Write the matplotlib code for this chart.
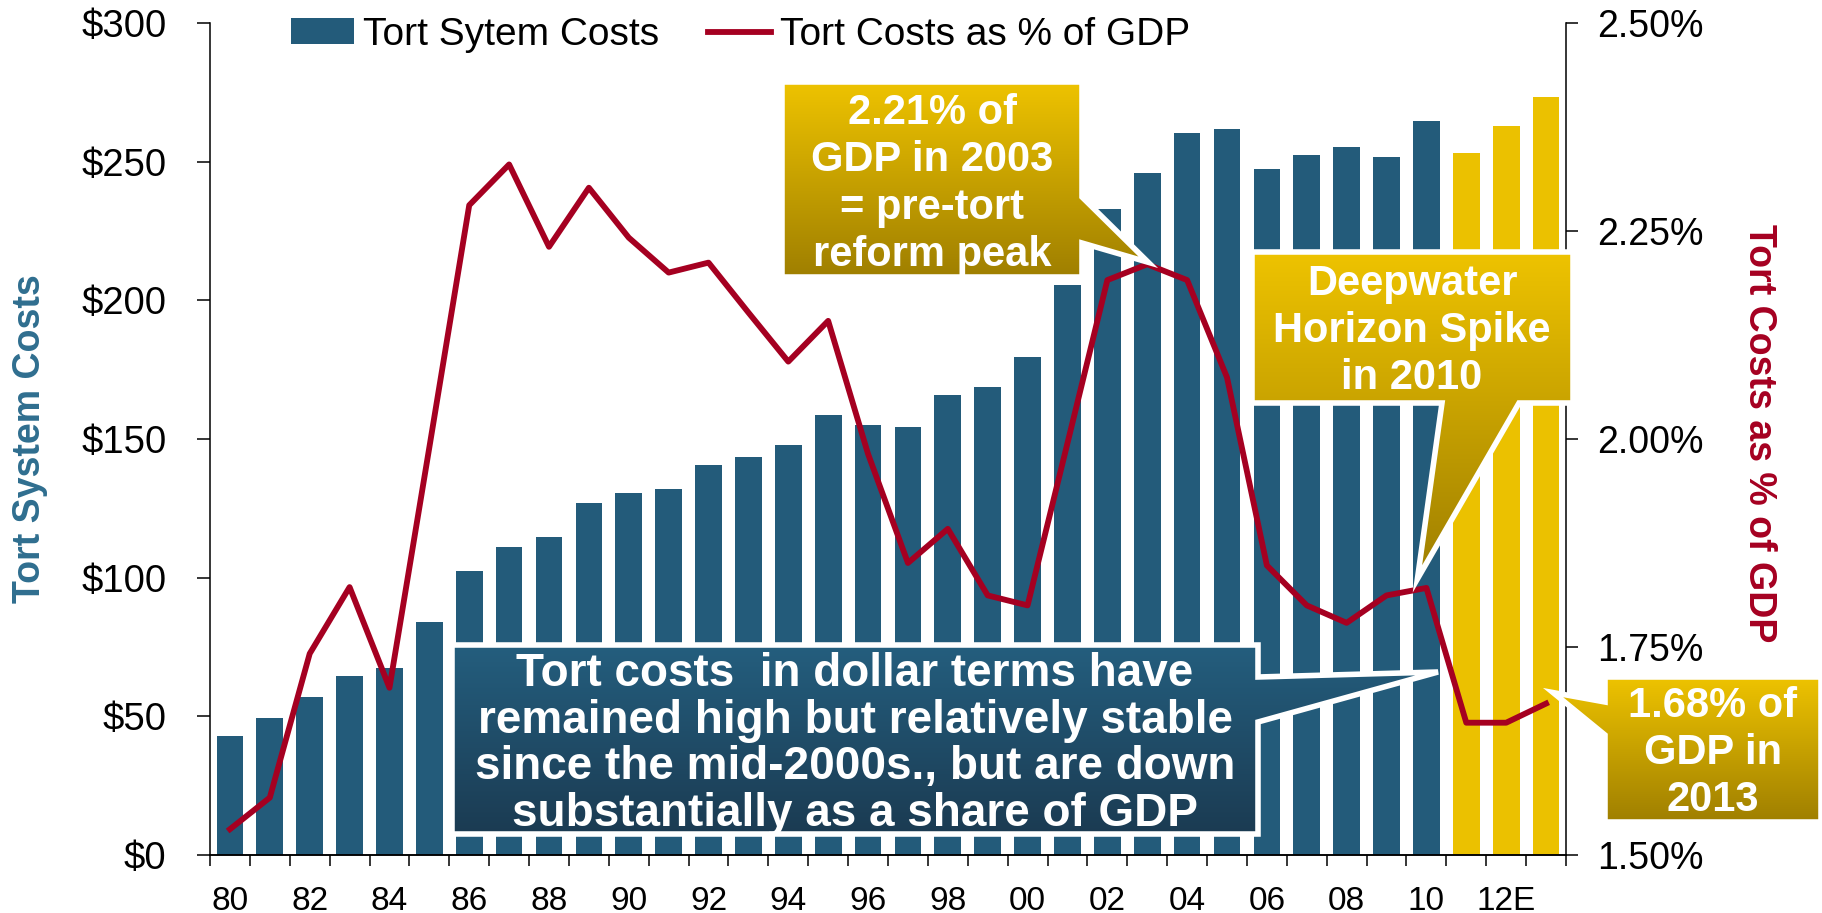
import matplotlib
matplotlib.use("Agg")
import matplotlib.pyplot as plt
import numpy as np
from matplotlib.colors import LinearSegmentedColormap
from matplotlib.patches import Polygon
from matplotlib.ticker import FuncFormatter

plt.rcParams["font.family"] = ["Liberation Sans", "DejaVu Sans"]

# --- data ----------------------------------------------------------------
years = list(range(1980, 2014))
costs = [43.0, 49.5, 57.0, 64.5, 67.4, 84.0, 102.4, 111.1, 114.7, 126.9,
         130.5, 132.0, 140.6, 143.5, 148.0, 158.7, 155.1, 154.3, 165.9, 168.8,
         179.6, 205.6, 233.0, 246.0, 260.4, 261.7, 247.3, 252.3, 255.2, 251.6,
         264.6, 253.0, 263.0, 273.3]
gdp_share = [1.531, 1.569, 1.742, 1.822, 1.701, 1.990, 2.281, 2.330, 2.231, 2.302,
             2.242, 2.200, 2.212, 2.152, 2.093, 2.142, 1.982, 1.851, 1.892, 1.812,
             1.800, 1.995, 2.191, 2.210, 2.191, 2.074, 1.848, 1.800, 1.779, 1.812,
             1.821, 1.659, 1.659, 1.682]
estimate_from = 2011
tick_years = list(range(1980, 2013, 2))
tick_labels = ["80", "82", "84", "86", "88", "90", "92", "94", "96", "98",
               "00", "02", "04", "06", "08", "10", "12E"]

BLUE = "#235B7A"
GOLD = "#EBC100"
RED = "#A50021"
LABEL_BLUE = "#2F6E8F"

W, H = 1822, 913
fig = plt.figure(figsize=(W / 100, H / 100), dpi=100)
ax = fig.add_axes([210 / W, 1 - 855 / H, 1356 / W, 832 / H])

x = np.arange(len(years))
colors = [GOLD if y >= estimate_from else BLUE for y in years]
bars = ax.bar(x, costs, width=0.67, color=colors, zorder=2)
ax.set_xlim(-0.5, len(years) - 0.5)
ax.set_ylim(0, 300)
ax.set_yticks(np.arange(0, 301, 50))
ax.yaxis.set_major_formatter(FuncFormatter(lambda v, _: f"${v:.0f}"))
ax.set_xticks([years.index(y) for y in tick_years])
ax.set_xticklabels(tick_labels)
ax.set_xticks(np.arange(-0.5, len(years)), minor=True)

ax2 = ax.twinx()
line, = ax2.plot(x, gdp_share, color=RED, lw=4.2, zorder=3)
ax2.set_ylim(1.5, 2.5)
ax2.set_yticks(np.arange(1.5, 2.51, 0.25))
ax2.yaxis.set_major_formatter(FuncFormatter(lambda v, _: f"{v:.2f}%"))

for a in (ax, ax2):
    a.spines["top"].set_visible(False)
    for s in a.spines.values():
        s.set_linewidth(1.1)
ax.spines["right"].set_visible(False)
ax2.spines["left"].set_visible(False)

ax.tick_params(axis="y", direction="out", length=9.4, width=1.1, pad=22, labelsize=27.5)
ax.tick_params(axis="x", which="major", length=0, pad=22, labelsize=24)
ax.tick_params(axis="x", which="minor", direction="out", length=8, width=1.1)
ax2.tick_params(axis="y", direction="out", length=8.6, width=1.1, pad=14, labelsize=27)

ax.set_ylabel("Tort System Costs", color=LABEL_BLUE, fontsize=27, fontweight="bold", va="center")
ax.yaxis.set_label_coords((30 - 210) / 1356, 0.5)
ax2.set_ylabel("Tort Costs as % of GDP", color=RED, fontsize=27, fontweight="bold",
               rotation=270, va="center")
ax2.yaxis.set_label_coords((1759 - 210) / 1356, 0.507)

fig.legend([bars, line], ["Tort Sytem Costs", "Tort Costs as % of GDP"],
           loc="center left", bbox_to_anchor=(291 / W, 1 - 35 / H), ncol=2,
           frameon=False, fontsize=28, handlelength=1.62, handleheight=0.65,
           handletextpad=0.23, columnspacing=1.26, borderpad=0, borderaxespad=0)

# --- callouts drawn in pixel space on a transparent overlay ---------------
ov = fig.add_axes([0, 0, 1, 1])
ov.set_zorder(10)
ov.axis("off")


def to_px(axis, xv, yv):
    xd, yd = axis.transData.transform((xv, yv))
    return xd, H - yd


def callout(pts, c_top, c_bot, text, cx, cy, size=30, spacing=1.24):
    xs = [p[0] for p in pts]
    ys = [p[1] for p in pts]
    cmap = LinearSegmentedColormap.from_list("grad", [c_top, c_bot])
    grad = np.linspace(0, 1, 256).reshape(-1, 1)
    im = ov.imshow(grad, cmap=cmap, extent=(min(xs), max(xs), max(ys), min(ys)),
                   origin="upper", aspect="auto", interpolation="bilinear", zorder=1)
    clip = Polygon(pts, closed=True, transform=ov.transData, fill=False, edgecolor="none")
    im.set_clip_path(clip)
    ov.add_patch(Polygon(pts, closed=True, fill=False, edgecolor="white", lw=4,
                         joinstyle="miter", zorder=2))
    ov.text(cx, cy, text, ha="center", va="center", color="white", fontsize=size,
            fontweight="bold", linespacing=spacing, zorder=3)


GOLD_TOP, GOLD_BOT = "#EEC300", "#9F7F00"
NAVY_TOP, NAVY_BOT = "#245E7E", "#1B3B52"

px, py = to_px(ax2, years.index(2003), gdp_share[years.index(2003)])
tip = (px + 1, py - 2)
callout([(782, 82), (1082, 82), (1082, 197), tip, (1082, 243), (1082, 277), (782, 277)],
        GOLD_TOP, GOLD_BOT, "2.21% of\nGDP in 2003\n= pre-tort\nreform peak", 932, 184)

px, py = to_px(ax2, years.index(2010), gdp_share[years.index(2010)])
tip = (px - 9, py - 9)
callout([(1252, 252), (1573, 252), (1573, 403), (1519, 403), tip, (1442, 403), (1252, 403)],
        GOLD_TOP, GOLD_BOT, "Deepwater\nHorizon Spike\nin 2010", 1412, 331)

callout([(452, 645), (1258, 645), (1258, 677), (1438, 672), (1258, 722), (1258, 834), (452, 834)],
        NAVY_TOP, NAVY_BOT,
        "Tort costs  in dollar terms have\nremained high but relatively stable\n"
        "since the mid-2000s., but are down\nsubstantially as a share of GDP", 855, 744,
        size=33, spacing=1.08)

px, py = to_px(ax2, years.index(2013), gdp_share[years.index(2013)])
tip = (px + 7, py - 11)
callout([(1605, 677), (1821, 677), (1821, 822), (1605, 822), (1605, 735), tip, (1605, 702)],
        GOLD_TOP, GOLD_BOT, "1.68% of\nGDP in\n2013", 1713, 753)

ov.set_xlim(0, W)
ov.set_ylim(H, 0)

fig.savefig("out.png", dpi=100)
